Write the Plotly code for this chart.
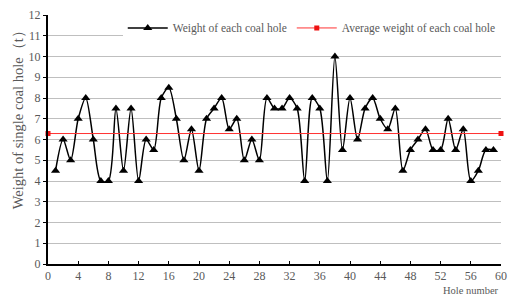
import plotly.graph_objects as go

hole_number = list(range(1, 60))
hole_weight = [
    4.5, 6, 5, 7, 8, 6, 4, 4, 7.5, 4.5,
    7.5, 4, 6, 5.5, 8, 8.5, 7, 5, 6.5, 4.5,
    7, 7.5, 8, 6.5, 7, 5, 6, 5, 8, 7.5,
    7.5, 8, 7.5, 4, 8, 7.5, 4, 10, 5.5, 8,
    6, 7.5, 8, 7, 6.5, 7.5, 4.5, 5.5, 6, 6.5,
    5.5, 5.5, 7, 5.5, 6.5, 4, 4.5, 5.5, 5.5,
]
avg_x = [0, 60]
avg_weight = sum(hole_weight) / len(hole_weight)
avg_y = [avg_weight, avg_weight]
x_ticks = list(range(0, 61, 4))
y_ticks = list(range(0, 13))

FONT = "'Liberation Serif', 'DejaVu Serif', serif"
GREY = "#595959"

fig = go.Figure()
fig.add_trace(go.Scatter(
    x=hole_number, y=hole_weight, mode="lines+markers",
    name="Weight of each coal hole",
    line=dict(color="black", width=1.5, shape="spline", smoothing=0.8),
    marker=dict(symbol="triangle-up", size=8, color="black"),
))
fig.add_trace(go.Scatter(
    x=avg_x, y=avg_y, mode="lines+markers",
    name="Average weight of each coal hole",
    line=dict(color="#ff3333", width=1),
    marker=dict(symbol="square", size=5, color="#ee1111"),
    cliponaxis=False,
))

fig.update_layout(
    width=508, height=298,
    margin=dict(l=48, r=7, t=15, b=34, autoexpand=False),
    paper_bgcolor="white", plot_bgcolor="white",
    font=dict(family=FONT, color=GREY, size=12),
    showlegend=True,
    legend=dict(
        orientation="h", x=0.165, y=0.948, xanchor="left", yanchor="middle",
        bgcolor="white", font=dict(family=FONT, size=11.5, color=GREY),
        itemwidth=40, tracegroupgap=0,
    ),
    xaxis=dict(
        range=[0, 60], tickvals=x_ticks, showgrid=False,
        showline=True, linecolor="black", linewidth=2,
        ticks="inside", ticklen=3, tickcolor="black",
        tickfont=dict(family=FONT, size=12, color=GREY),
        zeroline=False, automargin=False, ticklabeloverflow="allow",
    ),
    yaxis=dict(
        range=[0, 12], tickvals=y_ticks, showgrid=True,
        gridcolor="#bfbfbf", gridwidth=1,
        showline=True, linecolor="black", linewidth=2,
        ticks="outside", ticklen=3, tickcolor="black",
        tickfont=dict(family=FONT, size=12, color=GREY),
        zeroline=False, automargin=False,
    ),
    annotations=[
        dict(
            text="Hole number", xref="paper", yref="paper",
            x=1.0, y=-0.136, xanchor="right", yanchor="bottom", showarrow=False,
            font=dict(family=FONT, size=10.5, color=GREY),
        ),
        dict(
            text="Weight of single coal hole（t）", xref="paper", yref="paper",
            x=-0.066, y=0.594, xanchor="center", yanchor="middle",
            textangle=-90, showarrow=False,
            font=dict(family=FONT, size=14.5, color=GREY),
        ),
    ],
)

fig.write_html(
    "out.html",
    config={"displayModeBar": False},
    post_script="document.body.style.margin='0';document.body.style.overflow='hidden';",
)
